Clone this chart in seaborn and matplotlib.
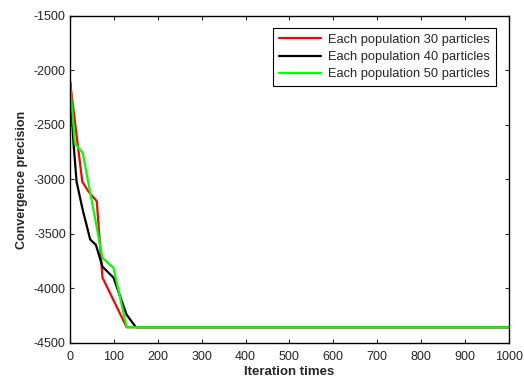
import matplotlib
matplotlib.use("Agg")
import matplotlib.pyplot as plt
import seaborn as sns
import pandas as pd

x30 = [0, 28, 42, 61, 74, 129, 1000]
y30 = [-2100, -3020, -3110, -3200, -3900, -4355, -4355]
x40 = [0, 8, 15, 29, 46, 59, 74, 99, 129, 150, 1000]
y40 = [-2100, -2670, -3020, -3280, -3550, -3600, -3800, -3900, -4240, -4355, -4355]
x50 = [0, 11, 29, 74, 99, 129, 1000]
y50 = [-2100, -2670, -2755, -3720, -3810, -4355, -4355]
labels = ["Each population 30 particles", "Each population 40 particles", "Each population 50 particles"]
colors = ["#ff0000", "#000000", "#00ff00"]

sns.set_style("ticks")
plt.rcParams['font.family'] = ['Liberation Sans', 'DejaVu Sans']
plt.rcParams['axes.unicode_minus'] = False

fig = plt.figure(figsize=(5.24, 3.77), dpi=100)
ax = fig.add_axes([0.1336, 0.0902, 0.8374, 0.8674])

for xs, ys, lab, c in zip([x30, x40, x50], [y30, y40, y50], labels, colors):
    df = pd.DataFrame({"x": xs, "y": ys})
    sns.lineplot(data=df, x="x", y="y", ax=ax, color=c, linewidth=1.6, label=lab, sort=False)

ax.set_xlim(0, 1000)
ax.set_ylim(-4500, -1500)
ax.set_xticks(range(0, 1001, 100))
ax.set_yticks(range(-4500, -1499, 500))
ax.tick_params(direction="in", top=True, right=True, labelsize=9, length=3, width=0.8, pad=3)
ax.tick_params(axis="x", pad=6)
for s in ax.spines.values():
    s.set_visible(True)
    s.set_linewidth(1.0)
    s.set_color("black")
ax.set_xlabel("Iteration times", fontsize=9.5, fontweight="bold", labelpad=2)
ax.set_ylabel("Convergence precision", fontsize=9, fontweight="bold", labelpad=4)
leg = ax.legend(loc="upper right", bbox_to_anchor=(0.97, 0.963), fontsize=9.3, frameon=True,
                fancybox=False, edgecolor="black", framealpha=1, borderpad=0.45,
                labelspacing=0.4, handlelength=3.3, handletextpad=0.5, borderaxespad=0)
leg.get_frame().set_linewidth(0.8)
fig.savefig("out.png", dpi=100)
